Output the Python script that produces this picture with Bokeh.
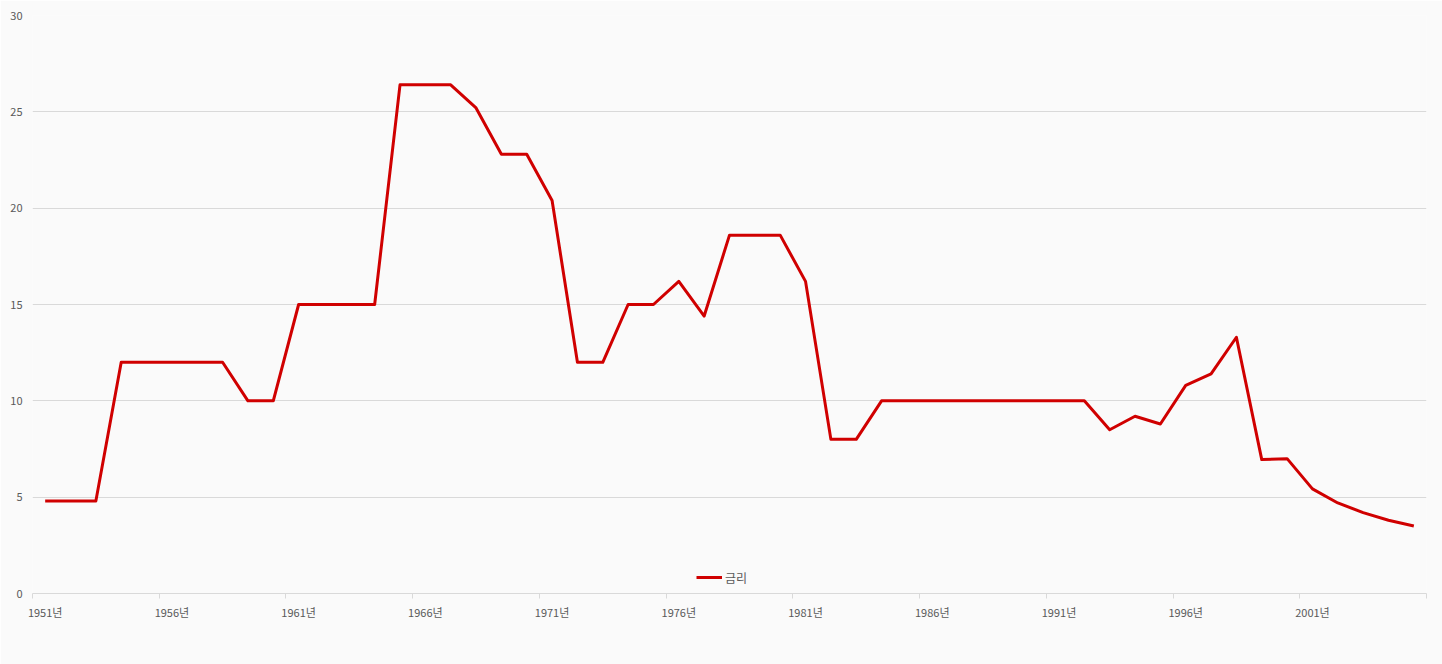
from bokeh.plotting import figure
from bokeh.models import Range1d, FixedTicker, Legend, LegendItem, ColumnDataSource
from bokeh.embed import file_html
from bokeh.resources import INLINE

years = list(range(1951, 2006))
year_labels = [f"{y}년" for y in years]
rates = [4.8, 4.8, 4.8, 12.0, 12.0, 12.0, 12.0, 12.0, 10.0, 10.0,
         15.0, 15.0, 15.0, 15.0, 26.4, 26.4, 26.4, 25.2, 22.8, 22.8,
         20.4, 12.0, 12.0, 15.0, 15.0, 16.2, 14.4, 18.6, 18.6, 18.6,
         16.2, 8.0, 8.0, 10.0, 10.0, 10.0, 10.0, 10.0, 10.0, 10.0,
         10.0, 10.0, 8.5, 9.2, 8.8, 10.8, 11.4, 13.3, 6.95, 7.0,
         5.43, 4.7, 4.2, 3.8, 3.5]
series_name = "금리"
y_ticks = [0, 5, 10, 15, 20, 25, 30]

FONT = "Noto Sans CJK KR"
TXT = "#595959"
GRID = "#D9D9D9"
BG = "#FAFAFA"

idx = list(range(len(years)))
src = ColumnDataSource(dict(x=idx, y=rates))

p = figure(width=1442, height=664, output_backend="svg", toolbar_location=None,
           x_range=Range1d(-0.5, len(years) - 0.5), y_range=Range1d(0, 30),
           min_border_left=32, min_border_right=16, min_border_top=15, min_border_bottom=71,
           frame_width=1394, frame_height=578)
p.background_fill_color = BG
p.border_fill_color = BG
p.outline_line_color = None

r = p.line("x", "y", source=src, line_color="#D00000", line_width=3, line_join="round")

# x axis
centers = idx[::5]
bounds = [i - 0.5 for i in range(0, len(years) + 1, 5)]
p.xaxis.ticker = FixedTicker(ticks=centers, minor_ticks=bounds)
p.xaxis.major_label_overrides = {i: year_labels[i] for i in centers}
p.xaxis.axis_line_color = GRID
p.xaxis.major_tick_out = 0
p.xaxis.major_tick_in = 0
p.xaxis.minor_tick_out = 5
p.xaxis.minor_tick_in = 0
p.xaxis.minor_tick_line_color = GRID
p.xaxis.major_label_standoff = 5
p.xaxis.major_label_text_font = FONT
p.xaxis.major_label_text_font_size = "11px"
p.xaxis.major_label_text_color = TXT
p.xgrid.grid_line_color = None

# y axis
p.yaxis.ticker = FixedTicker(ticks=y_ticks)
p.yaxis.axis_line_color = None
p.yaxis.major_tick_line_color = None
p.yaxis.minor_tick_line_color = None
p.yaxis.major_tick_out = 0
p.yaxis.major_label_standoff = 10
p.yaxis.major_label_text_font = FONT
p.yaxis.major_label_text_font_size = "11px"
p.yaxis.major_label_text_color = TXT
p.ygrid.grid_line_color = GRID
p.ygrid.grid_line_width = 1

legend = Legend(items=[LegendItem(label=series_name, renderers=[r])],
                orientation="horizontal", location=(664, 6),
                border_line_color=None, background_fill_alpha=0,
                label_text_font=FONT, label_text_font_size="12px",
                label_text_color=TXT, glyph_width=26, glyph_height=20,
                label_height=20, label_standoff=3,
                padding=0, margin=0, spacing=0)
p.add_layout(legend, "center")

open("out.html", "w").write(file_html(p, INLINE))
